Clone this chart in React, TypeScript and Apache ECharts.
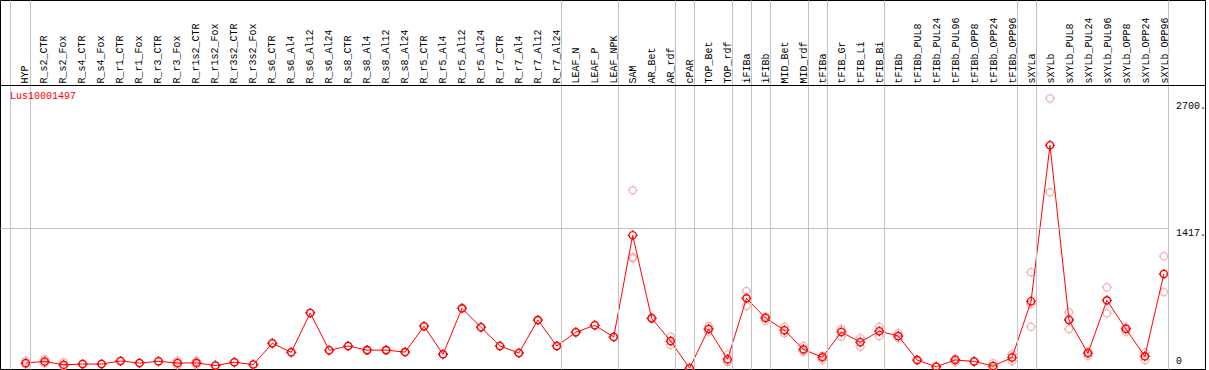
import React, { useEffect, useRef } from 'react';
import * as echarts from 'echarts';

const TITLE = 'Lus10001497';

const CATEGORIES = [
  'HYP', 'R_s2_CTR', 'R_s2_Fox', 'R_s4_CTR', 'R_s4_Fox', 'R_r1_CTR', 'R_r1_Fox', 'R_r3_CTR', 'R_r3_Fox',
  'R_r1s2_CTR', 'R_r1s2_Fox', 'R_r3s2_CTR', 'R_r3s2_Fox',
  'R_s6_CTR', 'R_s6_Al4', 'R_s6_Al12', 'R_s6_Al24', 'R_s8_CTR', 'R_s8_Al4', 'R_s8_Al12', 'R_s8_Al24',
  'R_r5_CTR', 'R_r5_Al4', 'R_r5_Al12', 'R_r5_Al24', 'R_r7_CTR', 'R_r7_Al4', 'R_r7_Al12', 'R_r7_Al24',
  'LEAF_N', 'LEAF_P', 'LEAF_NPK',
  'SAM', 'AR_Bet', 'AR_rdf', 'cPAR', 'TOP_Bet', 'TOP_rdf', 'iFIBa', 'iFIBb', 'MID_Bet', 'MID_rdf',
  'tFIBa', 'tFIB_Gr', 'tFIB_Li', 'tFIB_Bi', 'tFIBb',
  'tFIBb_PUL8', 'tFIBb_PUL24', 'tFIBb_PUL96', 'tFIBb_OPP8', 'tFIBb_OPP24', 'tFIBb_OPP96',
  'sXYLa', 'sXYLb', 'sXYLb_PUL8', 'sXYLb_PUL24', 'sXYLb_PUL96', 'sXYLb_OPP8', 'sXYLb_OPP24', 'sXYLb_OPP96',
];

const MEANS = [
  56, 71, 38, 45, 45, 76, 55, 73, 55, 57, 30, 63, 40,
  255, 164, 562, 184, 228, 186, 186, 166, 428, 144, 609, 417, 228, 157, 490, 228,
  367, 437, 319,
  1348, 508, 278, 3, 400, 94, 710, 511, 388, 194,
  113, 370, 266, 378, 329,
  85, 18, 86, 72, 25, 111,
  680, 2259, 491, 154, 690, 400, 123, 956,
];

const REP_A = [
  79, 93, 63, 45, 45, 76, 55, 76, 79, 79, 30, 63, 40,
  255, 164, 562, 184, 228, 186, 186, 166, 428, 144, 609, 417, 228, 157, 490, 228,
  367, 437, 319,
  1803, 515, 322, 5, 430, 144, 784, 524, 423, 228,
  126, 394, 306, 423, 356,
  88, 21, 98, 76, 53, 144,
  974, 2734, 569, 168, 822, 414, 160, 1136,
];

const REP_B = [
  43, 53, 28, 45, 45, 76, 55, 70, 32, 38, 30, 63, 40,
  255, 164, 562, 184, 228, 186, 186, 166, 428, 144, 609, 417, 228, 157, 490, 228,
  367, 437, 319,
  1125, 500, 237, 0, 372, 69, 633, 484, 356, 170,
  86, 322, 221, 329, 306,
  82, 15, 63, 68, 10, 76,
  423, 1783, 400, 126, 559, 372, 86, 774,
];

const REP_C = [
  46, 67, 23, 45, 45, 76, 55, 73, 54, 54, 30, 63, 40,
  255, 164, 562, 184, 228, 186, 186, 166, 428, 144, 609, 417, 228, 157, 490, 228,
  367, 437, 319,
  1116, 509, 275, 4, 398, 69, 713, 525, 385, 184,
  127, 394, 271, 382, 325,
  85, 18, 97, 72, 12, 113,
  653, 2259, 504, 168, 689, 414, 123, 958,
];

const Y_TICKS = [0, 1417, 2700];

// groups end after these categories (a grey separator is drawn just after each)
const GROUP_ENDS = [
  'HYP', 'R_r7_Al24', 'LEAF_NPK', 'AR_rdf', 'cPAR', 'TOP_rdf', 'iFIBa', 'iFIBb',
  'MID_rdf', 'tFIBa', 'tFIB_Bi', 'tFIBb_OPP96', 'sXYLa', 'sXYLb_OPP96',
];

// ---- layout (pixels) ----
const FONT = 'Liberation Mono';
const FRAME_L = 0.5;
const FRAME_T = 0.5;
const FRAME_W = 1207;
const FRAME_H = 369;
const STEP = 19;
const X0 = 25.75;
const ZERO_Y = 368.5;
const UNITS_PER_PX = 1417 / 140;
const HEADER_Y = 85.5;

const X_MIN = (FRAME_L - X0) / STEP;
const X_MAX = (FRAME_L + FRAME_W - X0) / STEP;
const Y_MIN = -(FRAME_T + FRAME_H - ZERO_Y) * UNITS_PER_PX;
const Y_MAX = (ZERO_Y - FRAME_T) * UNITS_PER_PX;
const HEADER_VALUE = (ZERO_Y - HEADER_Y) * UNITS_PER_PX;
const SEP_OFFSET = 0.25;
const LEAD_SEP = -0.8;

// circle with four short stubs (crosshair-style marker)
const MARK =
  'path://M5 1.4C6.988 1.4 8.6 3.012 8.6 5C8.6 6.988 6.988 8.6 5 8.6C3.012 8.6 1.4 6.988 1.4 5C1.4 3.012 3.012 1.4 5 1.4Z' +
  'M5 0L5 1.4M5 8.6L5 10M0 5L1.4 5M8.6 5L10 5';

export default function App() {
  const ref = useRef<HTMLDivElement>(null);

  useEffect(() => {
    if (!ref.current) return;
    const chart = echarts.init(ref.current, undefined, { renderer: 'svg' });

    const sepValues = [LEAD_SEP, ...GROUP_ENDS.map((c) => CATEGORIES.indexOf(c) + SEP_OFFSET)];
    const lastSep = CATEGORIES.length - 1 + SEP_OFFSET;

    const repData: number[][] = [];
    [REP_A, REP_B, REP_C].forEach((rep) => {
      rep.forEach((v, i) => repData.push([i, v]));
    });

    const option: any = {
      animation: false,
      title: {
        text: TITLE,
        left: 10,
        top: 91,
        padding: 0,
        textStyle: { color: '#ff0000', fontFamily: FONT, fontSize: 10, fontWeight: 'normal' },
      },
      grid: [
        {
          left: FRAME_L, top: FRAME_T, width: FRAME_W, height: FRAME_H,
          show: true, borderColor: '#000', borderWidth: 1, backgroundColor: '#fff',
        },
        {
          left: X0 - STEP / 2, top: HEADER_Y, width: STEP * CATEGORIES.length, height: ZERO_Y - HEADER_Y,
          show: false,
        },
      ],
      xAxis: [
        {
          type: 'value', gridIndex: 0, min: X_MIN, max: X_MAX,
          axisLine: { show: false }, axisTick: { show: false }, axisLabel: { show: false }, splitLine: { show: false },
        },
        {
          type: 'category', gridIndex: 1, position: 'top', data: CATEGORIES, boundaryGap: true,
          axisLine: { show: false }, axisTick: { show: false }, splitLine: { show: false },
          axisLabel: { interval: 0, rotate: 90, margin: 2, color: '#000', fontFamily: FONT, fontSize: 10 },
        },
      ],
      yAxis: [
        {
          type: 'value', gridIndex: 0, position: 'right', min: Y_MIN, max: Y_MAX,
          axisLine: { show: false }, axisTick: { show: false }, splitLine: { show: false },
          axisLabel: {
            inside: true,
            align: 'left',
            margin: FRAME_L + FRAME_W - 1178,
            customValues: Y_TICKS,
            formatter: (v: number) => (v === 0 ? '{z|0}' : `{n|${v}.}`),
            rich: {
              n: { fontFamily: FONT, fontSize: 10, color: '#000', padding: [9, 0, 0, 0] },
              z: { fontFamily: FONT, fontSize: 10, color: '#000', padding: [0, 0, 14, 0] },
            },
          },
        },
        {
          type: 'value', gridIndex: 1, show: false,
        },
      ],
      series: [
        {
          type: 'line',
          xAxisIndex: 0, yAxisIndex: 0,
          data: [],
          silent: true,
          z: 1,
          markLine: {
            silent: true,
            symbol: ['none', 'none'],
            label: { show: false },
            animation: false,
            data: [
              ...sepValues.map((v) => ({ xAxis: v, lineStyle: { color: '#c4c4c4', width: 1, type: 'solid' } })),
              [
                { coord: [X_MIN, Y_TICKS[1]], lineStyle: { color: '#c4c4c4', width: 1, type: 'solid' } },
                { coord: [lastSep, Y_TICKS[1]] },
              ],
              { yAxis: HEADER_VALUE, lineStyle: { color: '#000', width: 1, type: 'solid' } },
            ],
          },
        },
        {
          type: 'scatter',
          xAxisIndex: 0, yAxisIndex: 0,
          data: repData,
          symbol: MARK,
          symbolSize: 10,
          z: 2,
          itemStyle: { color: 'rgba(0,0,0,0)', borderColor: '#f0a0a0', borderWidth: 1.3 },
        },
        {
          type: 'line',
          xAxisIndex: 0, yAxisIndex: 0,
          data: MEANS.map((v, i) => [i, v]),
          symbol: MARK,
          symbolSize: 10,
          showAllSymbol: true,
          z: 3,
          lineStyle: { color: '#ff0000', width: 1 },
          itemStyle: { color: 'rgba(0,0,0,0)', borderColor: '#ff0000', borderWidth: 1.3 },
        },
      ],
    };

    chart.setOption(option);
    return () => chart.dispose();
  }, []);

  return (
    <div
      ref={ref}
      style={{ position: 'fixed', left: 0, top: 0, width: 1209, height: 370, background: '#fff' }}
    />
  );
}
